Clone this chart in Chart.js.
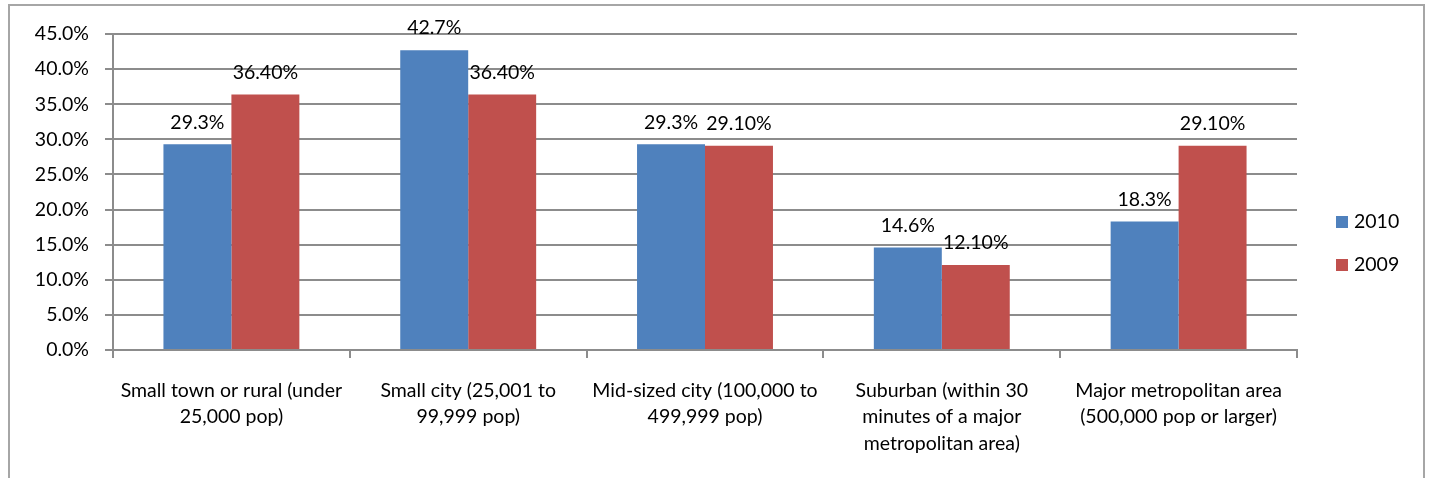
<!DOCTYPE html>
<html>
<head>
<meta charset="utf-8">
<script src="https://cdn.jsdelivr.net/npm/chart.js@4.4.1/dist/chart.umd.min.js"></script>
<style>
  html, body { margin: 0; padding: 0; background: #fff; }
  #wrap { position: relative; width: 1429px; height: 478px; }
</style>
</head>
<body>
<div id="wrap"><canvas id="c" width="1429" height="478"></canvas></div>
<script>
// Community size categories (multi-line axis labels)
const categories = [
  ["Small town or rural (under", "25,000 pop)"],
  ["Small city (25,001 to", "99,999 pop)"],
  ["Mid-sized city (100,000 to", "499,999 pop)"],
  ["Suburban (within 30", "minutes of a major", "metropolitan area)"],
  ["Major metropolitan area", "(500,000 pop or larger)"]
];
const seriesNames = ["2010", "2009"];
const values2010 = [29.3, 42.7, 29.3, 14.6, 18.3];
const values2009 = [36.4, 36.4, 29.1, 12.1, 29.1];
const labelDecimals = [1, 2];
const yTicks = [0, 5, 10, 15, 20, 25, 30, 35, 40, 45];

const FONT = "Lato, 'Open Sans', sans-serif";
const FS = 19.5;
const GRID = '#8c8c8c';

// Outer frame and legend
const framePlugin = {
  id: 'frame',
  afterDraw(chart) {
    const ctx = chart.ctx;
    ctx.save();
    ctx.strokeStyle = '#a6a6a6';
    ctx.lineWidth = 2;
    ctx.beginPath();
    ctx.moveTo(9, 480);
    ctx.lineTo(9, 5);
    ctx.lineTo(1424, 5);
    ctx.lineTo(1424, 480);
    ctx.stroke();

    // legend
    ctx.font = FS + 'px ' + FONT;
    ctx.textBaseline = 'middle';
    ctx.textAlign = 'left';
    const ys = [222, 265];
    chart.data.datasets.forEach((ds, i) => {
      ctx.fillStyle = ds.backgroundColor;
      ctx.fillRect(1336, ys[i] - 6, 12, 12);
      ctx.fillStyle = '#000';
      ctx.fillText(ds.label, 1354, ys[i]);
    });
    ctx.restore();
  }
};

// Value labels above each bar
const valueLabels = {
  id: 'valueLabels',
  afterDatasetsDraw(chart) {
    const ctx = chart.ctx;
    ctx.save();
    ctx.font = FS + 'px ' + FONT;
    ctx.fillStyle = '#000';
    ctx.textAlign = 'center';
    ctx.textBaseline = 'middle';
    chart.data.datasets.forEach((ds, di) => {
      const meta = chart.getDatasetMeta(di);
      meta.data.forEach((bar, i) => {
        const txt = ds.data[i].toFixed(labelDecimals[di]) + '%';
        ctx.fillText(txt, bar.x, bar.y - 22);
      });
    });
    ctx.restore();
  }
};

new Chart(document.getElementById('c'), {
  type: 'bar',
  data: {
    labels: categories,
    datasets: [
      { label: seriesNames[0], data: values2010, backgroundColor: '#4f81bd' },
      { label: seriesNames[1], data: values2009, backgroundColor: '#c0504d' }
    ]
  },
  options: {
    responsive: false,
    animation: false,
    devicePixelRatio: 1,
    layout: { padding: { top: 34, right: 132, left: 0, bottom: 0 } },
    datasets: { bar: { categoryPercentage: 0.574, barPercentage: 1.0 } },
    plugins: { legend: { display: false }, tooltip: { enabled: false } },
    scales: {
      x: {
        offset: true,
        grid: { offset: true, drawOnChartArea: false, drawTicks: true, tickLength: 8, color: GRID, lineWidth: 2 },
        border: { display: true, color: GRID, width: 2 },
        ticks: { color: '#000', padding: 19, font: { family: FONT, size: FS, lineHeight: 1.36 }, maxRotation: 0, autoSkip: false },
        afterFit(scale) { scale.height = 128; }
      },
      y: {
        min: 0, max: 45,
        afterBuildTicks(scale) { scale.ticks = yTicks.map(v => ({ value: v })); },
        grid: { color: GRID, lineWidth: 2, drawTicks: true, tickLength: 8 },
        border: { display: true, color: GRID, width: 2 },
        ticks: { color: '#000', padding: 16, font: { family: FONT, size: FS }, callback: v => v.toFixed(1) + '%' },
        afterFit(scale) { scale.width = 113; }
      }
    }
  },
  plugins: [framePlugin, valueLabels]
});
</script>
</body>
</html>
